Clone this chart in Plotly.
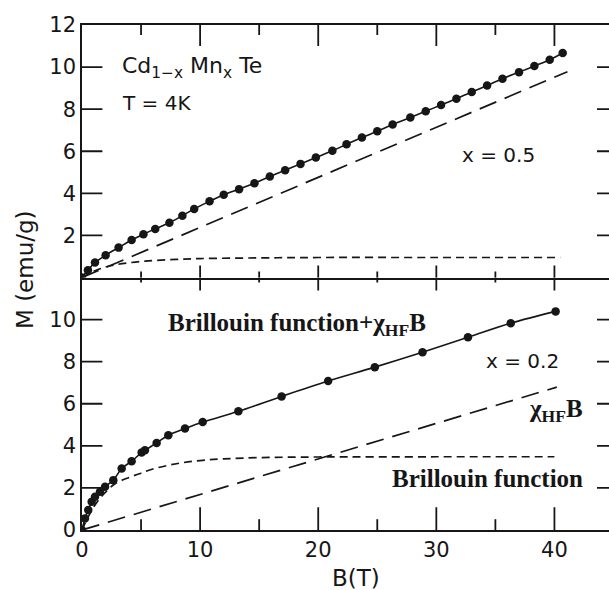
import plotly.graph_objects as go

# ---- x = 0.5 (upper panel) ----
b_top = [0, 0.5, 1.1, 2.0, 3.1, 4.2, 5.2, 6.2, 7.4, 8.5, 9.5, 10.8, 12.0, 13.3, 14.6,
         15.9, 17.2, 18.5, 19.8, 21.2, 22.4, 23.7, 25.0, 26.3, 27.8, 29.1, 30.4, 31.7,
         33.0, 34.3, 35.6, 37.0, 38.3, 39.6, 40.7]
m_top = [0, 0.35, 0.71, 1.06, 1.42, 1.78, 2.05, 2.31, 2.6, 2.94, 3.26, 3.62, 3.93, 4.2, 4.48,
         4.8, 5.1, 5.4, 5.7, 6.02, 6.33, 6.65, 6.95, 7.27, 7.6, 7.9, 8.2, 8.5,
         8.82, 9.12, 9.45, 9.76, 10.05, 10.35, 10.67]
b_top_hf = [0, 41.1]
m_top_hf = [0, 9.78]
b_top_bri = [0, 1, 2, 3, 4, 5, 6, 8, 10, 15, 20, 30, 40.5]
m_top_bri = [0, 0.3, 0.5, 0.62, 0.7, 0.76, 0.8, 0.86, 0.9, 0.93, 0.95, 0.95, 0.95]

# ---- x = 0.2 (lower panel) ----
b_bot = [0, 0.25, 0.53, 0.82, 1.1, 1.52, 1.95, 2.65, 3.36, 4.2, 5.05, 5.33, 6.32, 7.31,
         8.72, 10.22, 13.24, 16.9, 20.84, 24.79, 28.83, 32.68, 36.3, 40.1]
m_bot = [0, 0.55, 0.95, 1.34, 1.58, 1.82, 2.05, 2.37, 2.92, 3.27, 3.68, 3.79, 4.14, 4.5,
         4.82, 5.13, 5.64, 6.35, 7.08, 7.74, 8.45, 9.16, 9.83, 10.39]
b_bot_hf = [0, 40.2]
m_bot_hf = [0, 6.79]
b_bot_bri = [0, 0.5, 1, 1.5, 2, 2.8, 4, 5, 6, 8, 10, 12, 15, 20, 30, 40]
m_bot_bri = [0, 0.6, 1.1, 1.5, 1.8, 2.2, 2.5, 2.7, 2.9, 3.15, 3.3, 3.38, 3.44, 3.47, 3.48, 3.48]

# ---- axis ticks ----
x_major = [0, 10, 20, 30, 40]
x_minor = [5, 15, 25, 35]
y_top_ticks = [2, 4, 6, 8, 10, 12]
y_bot_ticks = [0, 2, 4, 6, 8, 10]
y_marks = [2, 4, 6, 8, 10]

INK = "#161616"
SANS = "DejaVu Sans"
SERIF = "Liberation Serif"
X_RANGE = [0, 44.62]
Y_RANGE = [0, 12]

W, H = 609, 590
M_L, M_R, M_T, M_B = 82, 0, 25, 60
PANEL_W = W - M_L - M_R
PANEL_H = (H - M_T - M_B) / 2
# data units per pixel, used to size the tick marks
DX = (X_RANGE[1] - X_RANGE[0]) / PANEL_W
DY = (Y_RANGE[1] - Y_RANGE[0]) / PANEL_H

fig = go.Figure()


def add_panel(xa, ya, b, m, b_hf, m_hf, b_bri, m_bri):
    fig.add_trace(go.Scatter(x=b_hf, y=m_hf, xaxis=xa, yaxis=ya, mode="lines",
                             line=dict(color=INK, width=1.7, dash="18px,9px"),
                             showlegend=False, hoverinfo="skip"))
    fig.add_trace(go.Scatter(x=b_bri, y=m_bri, xaxis=xa, yaxis=ya, mode="lines",
                             line=dict(color=INK, width=1.7, dash="8px,5px", shape="spline"),
                             showlegend=False, hoverinfo="skip"))
    fig.add_trace(go.Scatter(x=b, y=m, xaxis=xa, yaxis=ya, mode="lines+markers",
                             line=dict(color=INK, width=1.6, shape="spline"),
                             marker=dict(color=INK, size=8.5),
                             showlegend=False))


def tick_segment(xa, ya, x0, y0, x1, y1):
    # ticks hanging from the top and right edges: short line segments
    fig.add_trace(go.Scatter(x=[x0, x1], y=[y0, y1], xaxis=xa, yaxis=ya, mode="lines",
                             line=dict(color=INK, width=1.8),
                             showlegend=False, hoverinfo="skip"))


def tick_glyphs(xa, ya, xs, ys, symbol, length_px):
    # ticks standing on the bottom and left edges: line-shaped markers
    fig.add_trace(go.Scatter(x=xs, y=ys, xaxis=xa, yaxis=ya, mode="markers",
                             marker=dict(symbol=symbol, size=length_px, color=INK,
                                         line=dict(color=INK, width=1.8)),
                             showlegend=False, hoverinfo="skip"))


def panel_ticks(xa, ya, bottom_major, bottom_minor, top_major, top_minor, left, right):
    y_lo, y_hi = Y_RANGE
    x_lo, x_hi = X_RANGE
    majors = x_major[1:]
    # bottom edge (pointing up) and left edge (pointing right)
    tick_glyphs(xa, ya, majors, [y_lo + bottom_major / 2 * DY] * len(majors),
                "line-ns", bottom_major)
    tick_glyphs(xa, ya, x_minor, [y_lo + bottom_minor / 2 * DY] * len(x_minor),
                "line-ns", bottom_minor)
    tick_glyphs(xa, ya, [x_lo + left / 2 * DX] * len(y_marks), y_marks, "line-ew", left)
    # top edge (pointing down) and right edge (pointing left)
    for v in majors:
        tick_segment(xa, ya, v, y_hi, v, y_hi - top_major * DY)
    for v in x_minor:
        tick_segment(xa, ya, v, y_hi, v, y_hi - top_minor * DY)
    for v in y_marks:
        tick_segment(xa, ya, x_hi, v, x_hi - right * DX, v)


add_panel("x2", "y2", b_top, m_top, b_top_hf, m_top_hf, b_top_bri, m_top_bri)
add_panel("x", "y", b_bot, m_bot, b_bot_hf, m_bot_hf, b_bot_bri, m_bot_bri)
# tick lengths in pixels: bottom major/minor, top major/minor, left, right
panel_ticks("x", "y", 19, 9, 13, 5, 17, 12)
panel_ticks("x2", "y2", 10, 5, 21, 10, 17, 12)

tickfont = dict(family=SANS, size=21, color=INK)

fig.update_layout(
    width=W, height=H,
    margin=dict(l=M_L, r=M_R, t=M_T, b=M_B),
    paper_bgcolor="white", plot_bgcolor="white",
    # lower panel
    xaxis=dict(domain=[0, 1], anchor="y", range=X_RANGE, showgrid=False, zeroline=False,
               tickmode="array", tickvals=x_major, ticktext=[str(v) for v in x_major],
               ticks="", showline=True, linewidth=1.5, linecolor=INK, tickfont=tickfont),
    yaxis=dict(domain=[0, 0.5], anchor="x", range=Y_RANGE, showgrid=False, zeroline=False,
               tickmode="array", tickvals=y_bot_ticks, ticktext=[str(v) for v in y_bot_ticks],
               ticks="", showline=True, linewidth=1.5, linecolor=INK, tickfont=tickfont),
    # upper panel
    xaxis2=dict(domain=[0, 1], anchor="y2", range=X_RANGE, showgrid=False, zeroline=False,
                tickmode="array", tickvals=x_major, showticklabels=False, ticks="",
                showline=True, mirror=True, linewidth=1.5, linecolor=INK),
    yaxis2=dict(domain=[0.5, 1], anchor="x2", range=Y_RANGE, showgrid=False, zeroline=False,
                tickmode="array", tickvals=y_top_ticks, ticktext=[str(v) for v in y_top_ticks],
                ticks="", showline=True, linewidth=1.5, linecolor=INK, tickfont=tickfont),
)

sans = dict(family=SANS, size=20, color=INK)
serif = dict(family=SERIF, size=25, color=INK)

notes = [
    dict(text="Cd<sub>1\u2212x</sub> Mn<sub>x</sub> Te", x=3.2, y=10.0, xref="x2", yref="y2",
         xanchor="left", font=dict(family=SANS, size=22, color=INK)),
    dict(text="T = 4K", x=3.2, y=8.3, xref="x2", yref="y2", xanchor="left", font=sans),
    dict(text="x = 0.5", x=35.3, y=5.8, xref="x2", yref="y2", xanchor="center", font=sans),
    dict(text="<b>Brillouin function+\u03c7<sub>HF</sub>B</b>", x=7.1, y=9.75, xref="x", yref="y",
         xanchor="left", font=serif),
    dict(text="x = 0.2", x=37.3, y=8.05, xref="x", yref="y", xanchor="center", font=sans),
    dict(text="<b>\u03c7<sub>HF</sub>B</b>", x=40.1, y=5.7, xref="x", yref="y",
         xanchor="center", font=serif),
    dict(text="<b>Brillouin function</b>", x=34.3, y=2.45, xref="x", yref="y",
         xanchor="center", font=serif),
    dict(text="B(T)", x=23.2, y=-0.095, xref="x", yref="paper", xanchor="center",
         yanchor="middle", font=dict(family=SANS, size=23, color=INK)),
    dict(text="M (emu/g)", x=-0.108, y=0.515, xref="paper", yref="paper", xanchor="center",
         yanchor="middle", textangle=-90, font=dict(family=SANS, size=23, color=INK)),
]
for n in notes:
    fig.add_annotation(showarrow=False, **n)

fig.write_html("out.html")
